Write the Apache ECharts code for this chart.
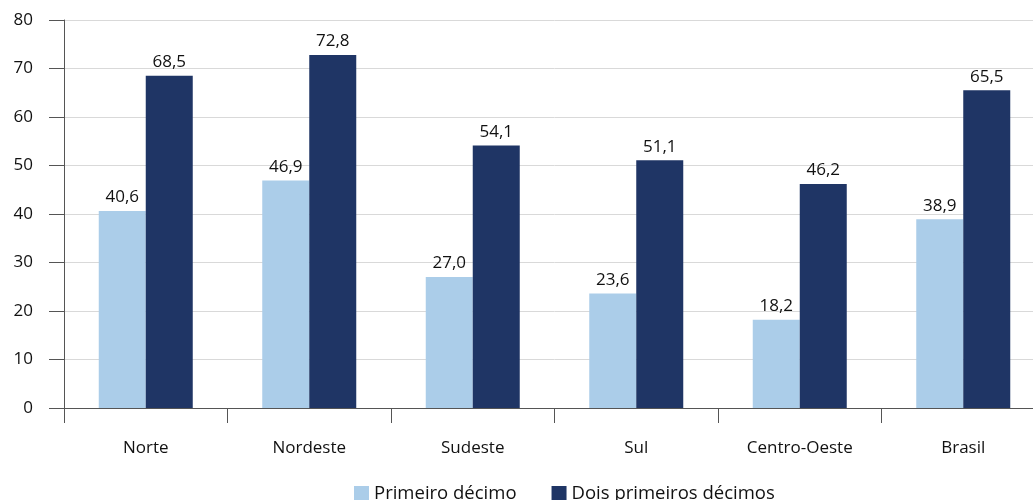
<!DOCTYPE html>
<html><head><meta charset="utf-8">
<script src="https://cdn.jsdelivr.net/npm/echarts@6/dist/echarts.min.js"></script>
<style>html,body{margin:0;padding:0;background:#fff;overflow:hidden;width:1033px;height:500px}#c{width:1045px;height:500px}</style>
</head><body><div id="c"></div>
<script>
const categories = ['Norte','Nordeste','Sudeste','Sul','Centro-Oeste','Brasil'];
const primeiro = [40.6, 46.9, 27.0, 23.6, 18.2, 38.9];
const doisPrimeiros = [68.5, 72.8, 54.1, 51.1, 46.2, 65.5];
const seriesNames = ['Primeiro décimo','Dois primeiros décimos'];
const yTicks = {min: 0, max: 80, interval: 10};

const font = '"Open Sans", "Noto Sans", sans-serif';
const chart = echarts.init(document.getElementById('c'));
const fmt = p => p.value.toFixed(1).replace('.', ',');
const lbl = {show: true, position: 'top', distance: 5, color: '#111', fontSize: 17, fontFamily: font, formatter: fmt};
chart.setOption({
  animation: false,
  grid: {left: 64, top: 20, bottom: 92, right: 0, containLabel: false},
  legend: {
    top: 479, left: 349, itemWidth: 15, itemHeight: 15, itemGap: 35,
    icon: 'rect',
    textStyle: {fontSize: 18.5, fontFamily: font, color: '#111'},
    data: seriesNames
  },
  xAxis: {
    type: 'category', data: categories,
    axisLine: {lineStyle: {color: '#555', width: 1}},
    axisTick: {show: true, length: 15, lineStyle: {color: '#555'}},
    axisLabel: {margin: 32, fontSize: 17, fontFamily: font, color: '#111'}
  },
  yAxis: {
    type: 'value', min: yTicks.min, max: yTicks.max, interval: yTicks.interval,
    axisLine: {show: true, lineStyle: {color: '#555', width: 1}},
    axisTick: {show: true, length: 15, lineStyle: {color: '#555'}},
    axisLabel: {margin: 31, fontSize: 17, fontFamily: font, color: '#111'},
    splitLine: {lineStyle: {color: '#d9d9d9', width: 1}}
  },
  series: [
    {name: seriesNames[0], type: 'bar', data: primeiro, barWidth: 47, barGap: '0%',
     itemStyle: {color: '#abcde9'}, label: lbl},
    {name: seriesNames[1], type: 'bar', data: doisPrimeiros, barWidth: 47, barGap: '0%',
     itemStyle: {color: '#1f3565'}, label: lbl}
  ]
});
</script></body></html>
